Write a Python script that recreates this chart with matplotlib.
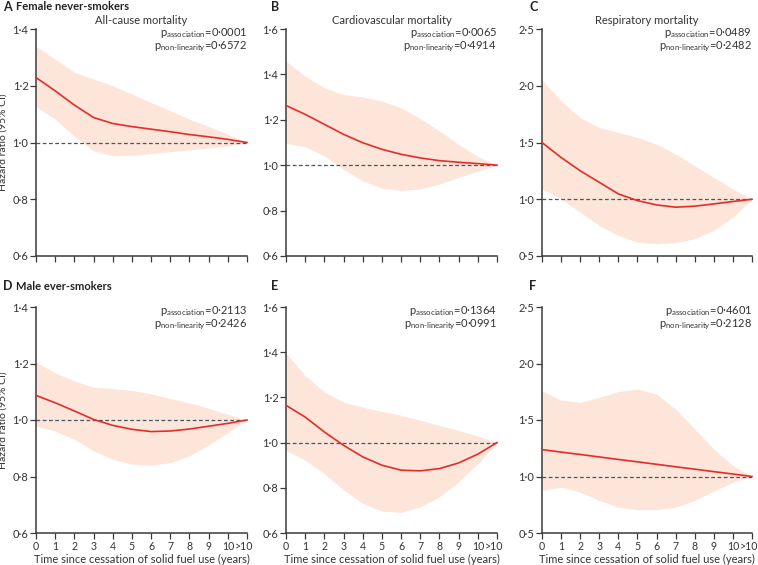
import matplotlib
matplotlib.use("Agg")
import matplotlib.pyplot as plt
import matplotlib.transforms as mtransforms

plt.rcParams['font.family'] = ['Lato', 'DejaVu Sans']
plt.rcParams['mathtext.fontset'] = 'custom'
plt.rcParams['mathtext.rm'] = 'Lato'
plt.rcParams['mathtext.it'] = 'Lato:italic'

# ---- data ----
x_years = [0, 1, 2, 3, 4, 5, 6, 7, 8, 9, 10, 11]
x_labels = ["0", "1", "2", "3", "4", "5", "6", "7", "8", "9", "10", ">10"]

# Panel A: female never-smokers, all-cause
A_hr = [1.229, 1.182, 1.132, 1.088, 1.067, 1.056, 1.047, 1.038, 1.028, 1.02, 1.011, 1.0]
A_hi = [1.339, 1.294, 1.247, 1.224, 1.20, 1.171, 1.141, 1.112, 1.082, 1.056, 1.029, 1.0]
A_lo = [1.126, 1.082, 1.022, 0.971, 0.953, 0.955, 0.961, 0.967, 0.974, 0.981, 0.988, 1.0]
# Panel B: female never-smokers, cardiovascular
B_hr = [1.263, 1.224, 1.18, 1.136, 1.099, 1.07, 1.048, 1.032, 1.02, 1.013, 1.007, 1.0]
B_hi = [1.458, 1.392, 1.341, 1.311, 1.301, 1.282, 1.253, 1.205, 1.151, 1.092, 1.038, 1.0]
B_lo = [1.096, 1.082, 1.041, 0.982, 0.931, 0.899, 0.889, 0.895, 0.917, 0.946, 0.975, 1.0]
# Panel C: female never-smokers, respiratory
C_hr = [1.50, 1.368, 1.251, 1.149, 1.047, 0.988, 0.95, 0.93, 0.939, 0.959, 0.98, 1.0]
C_hi = [2.056, 1.865, 1.719, 1.632, 1.588, 1.544, 1.485, 1.398, 1.295, 1.193, 1.091, 1.0]
C_lo = [1.091, 1.003, 0.886, 0.769, 0.681, 0.623, 0.608, 0.617, 0.652, 0.725, 0.842, 1.0]
# Panel D: male ever-smokers, all-cause
D_hr = [1.087, 1.061, 1.032, 1.002, 0.981, 0.967, 0.959, 0.961, 0.968, 0.978, 0.988, 1.0]
D_hi = [1.205, 1.167, 1.138, 1.116, 1.111, 1.105, 1.093, 1.076, 1.061, 1.041, 1.02, 1.0]
D_lo = [0.979, 0.961, 0.932, 0.891, 0.861, 0.844, 0.84, 0.849, 0.873, 0.912, 0.955, 1.0]
# Panel E: male ever-smokers, cardiovascular
E_hr = [1.165, 1.113, 1.047, 0.988, 0.937, 0.90, 0.878, 0.875, 0.885, 0.91, 0.949, 1.0]
E_hi = [1.396, 1.297, 1.224, 1.179, 1.157, 1.138, 1.121, 1.099, 1.076, 1.054, 1.029, 1.0]
E_lo = [0.966, 0.922, 0.863, 0.79, 0.731, 0.697, 0.691, 0.716, 0.76, 0.826, 0.907, 1.0]
# Panel F: male ever-smokers, respiratory
F_hr = [1.238, 1.216, 1.195, 1.173, 1.151, 1.13, 1.108, 1.086, 1.065, 1.043, 1.022, 1.0]
F_hi = [1.759, 1.676, 1.656, 1.70, 1.753, 1.774, 1.729, 1.597, 1.421, 1.244, 1.097, 1.0]
F_lo = [0.876, 0.906, 0.862, 0.788, 0.729, 0.706, 0.706, 0.729, 0.788, 0.871, 0.95, 1.0]

p_assoc = ["0·0001", "0·0065", "0·0489", "0·2113", "0·1364", "0·4601"]
p_nonlin = ["0·6572", "0·4914", "0·2482", "0·2426", "0·0991", "0·2128"]
titles = ["All-cause mortality", "Cardiovascular mortality", "Respiratory mortality", "", "", ""]
letters = ["A", "B", "C", "D", "E", "F"]
group_labels = {0: "Female never-smokers", 3: "Male ever-smokers"}

ylims = [(0.6, 1.4), (0.6, 1.6), (0.5, 2.5), (0.6, 1.4), (0.6, 1.6), (0.5, 2.5)]
yticks = [[0.6, 0.8, 1.0, 1.2, 1.4], [0.6, 0.8, 1.0, 1.2, 1.4, 1.6],
          [0.5, 1.0, 1.5, 2.0, 2.5], [0.6, 0.8, 1.0, 1.2, 1.4],
          [0.6, 0.8, 1.0, 1.2, 1.4, 1.6], [0.5, 1.0, 1.5, 2.0, 2.5]]

series = [(A_hr, A_lo, A_hi), (B_hr, B_lo, B_hi), (C_hr, C_lo, C_hi),
          (D_hr, D_lo, D_hi), (E_hr, E_lo, E_hi), (F_hr, F_lo, F_hi)]

# ---- layout ----
W, H = 758, 565
fig = plt.figure(figsize=(W / 100, H / 100), dpi=100)
lefts = [36, 286, 542]
widths = [211, 211, 210]
row_top = [29, 307]
row_bot = [256, 533]

RED = '#e42d2a'
FILL = '#fde5da'
TXT = '#333333'
AXC = '#3a3a3a'

for i in range(6):
    r, c = divmod(i, 3)
    l, w = lefts[c], widths[c]
    t, b = row_top[r], row_bot[r]
    ax = fig.add_axes([l / W, 1 - b / H, w / W, (b - t) / H])
    hr, lo, hi = series[i]
    ax.fill_between(x_years, lo, hi, color=FILL, lw=0, zorder=1)
    ax.plot([x_years[0], x_years[-1]], [1.0, 1.0], ls=(0, (3, 2)), color='#42596a', lw=0.9, zorder=2)
    ax.plot(x_years, hr, color=RED, lw=1.2, zorder=3, clip_on=False, solid_joinstyle='round')
    ax.set_xlim(0, 11)
    ax.set_ylim(*ylims[i])
    ax.set_yticks(yticks[i])
    ax.set_yticklabels([f"{v:.1f}".replace('.', '·') for v in yticks[i]])
    ax.set_xticks(x_years)
    if r == 1:
        ax.set_xticklabels(x_labels)
        ax.set_xlabel("Time since cessation of solid fuel use (years)", fontsize=8, color=TXT, labelpad=2)
    else:
        ax.set_xticklabels([])
    for s in ['top', 'right']:
        ax.spines[s].set_visible(False)
    for s in ['left', 'bottom']:
        ax.spines[s].set_color(AXC)
        ax.spines[s].set_linewidth(1.1)
    ax.tick_params(direction='out', length=4, width=0.9, color=AXC, labelsize=8,
                   labelcolor=TXT, pad=1.5)
    if r == 1:
        ax.tick_params(axis='x', labelsize=7.6)
        last = ax.get_xticklabels()[-1]
        last.set_transform(last.get_transform() +
                           mtransforms.ScaledTranslation(-3 / 100, 0, fig.dpi_scale_trans))
    ax.patch.set_alpha(0)
    if c == 0:
        ax.set_ylabel("Hazard ratio (95% CI)", fontsize=7.5, color=TXT)
        ax.yaxis.set_label_coords(-28 / w, 0.5)
    if titles[i]:
        ax.text(0.5, 1.0 + 8 / (b - t), titles[i], transform=ax.transAxes, ha='center',
                va='center', fontsize=8, color=TXT)
    ax.text(1.0, 1 - 4 / (b - t), r"p$_{\mathregular{association}}$=" + p_assoc[i],
            transform=ax.transAxes, ha='right', va='center', fontsize=8, color=TXT)
    ax.text(1.0, 1 - 18 / (b - t), r"p$_{\mathregular{non\text{-}linearity}}$=" + p_nonlin[i],
            transform=ax.transAxes, ha='right', va='center', fontsize=8, color=TXT)
    # panel letter
    lx = [3, 271, 529][c]
    ly = [7, 286][r]
    fig.text(lx / W, 1 - ly / H, letters[i], fontsize=9, fontweight='bold', color='#222222',
             ha='left', va='center')
    if i in group_labels:
        fig.text((lx + 13) / W, 1 - ly / H, group_labels[i], fontsize=8, fontweight='bold',
                 color='#222222', ha='left', va='center')

fig.savefig("out.png", dpi=100)
